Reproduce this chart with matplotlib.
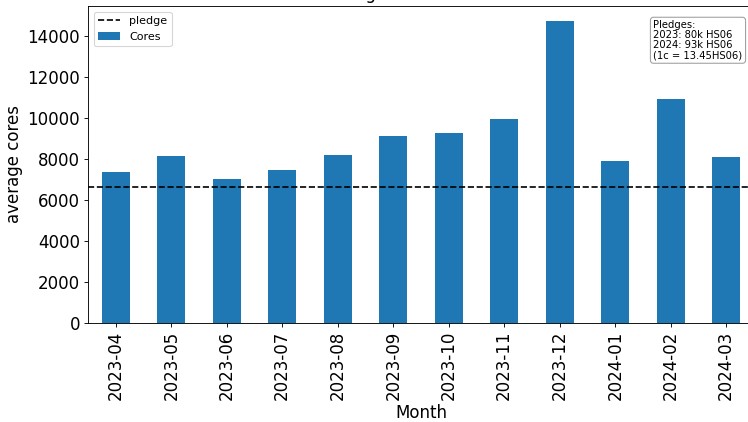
import matplotlib
matplotlib.use("Agg")
import matplotlib.pyplot as plt
import numpy as np

months = ["2023-04", "2023-05", "2023-06", "2023-07", "2023-08", "2023-09",
          "2023-10", "2023-11", "2023-12", "2024-01", "2024-02", "2024-03"]
cores = [7360, 8140, 7020, 7460, 8190, 9110, 9260, 9940, 14710, 7890, 10910, 8090]
pledge = 6650
note = "Pledges:\n2023: 80k HS06\n2024: 93k HS06\n(1c = 13.45HS06)"
title = "Average cores for month"

fig = plt.figure(figsize=(748 / 80, 422 / 80), dpi=80)
W, H = 748, 422
left, right, top, bottom = 88, 754, 6, 323
ax = fig.add_axes([left / W, 1 - bottom / H, (right - left) / W, (bottom - top) / H])

x = np.arange(len(months))
ax.bar(x, cores, width=0.5, color="#1f77b4", label="Cores")
ax.axhline(pledge, color="black", linestyle="--", linewidth=1.5, label="pledge")
ax.set_xlim(-0.5, len(months) - 0.5)
ax.set_ylim(0, max(cores) * 1.05)
ax.set_xticks(x)
ax.set_xticklabels(months, rotation=90, fontsize=15)
ax.tick_params(axis="y", labelsize=15)
ax.set_xlabel("Month", fontsize=15, labelpad=3)
ax.set_ylabel("average cores", fontsize=15)
ax.set_title(title, fontsize=15)

handles, labels = ax.get_legend_handles_labels()
order = [labels.index("pledge"), labels.index("Cores")]
ax.legend([handles[i] for i in order], [labels[i] for i in order],
          loc="upper left", fontsize=10)

ax.text(0.849, 0.955, note, transform=ax.transAxes, fontsize=9,
        va="top", ha="left", linespacing=1.0,
        bbox=dict(boxstyle="round,pad=0.3", facecolor="white", edgecolor="#999999", alpha=0.9))

fig.savefig("out.png", dpi=80)
